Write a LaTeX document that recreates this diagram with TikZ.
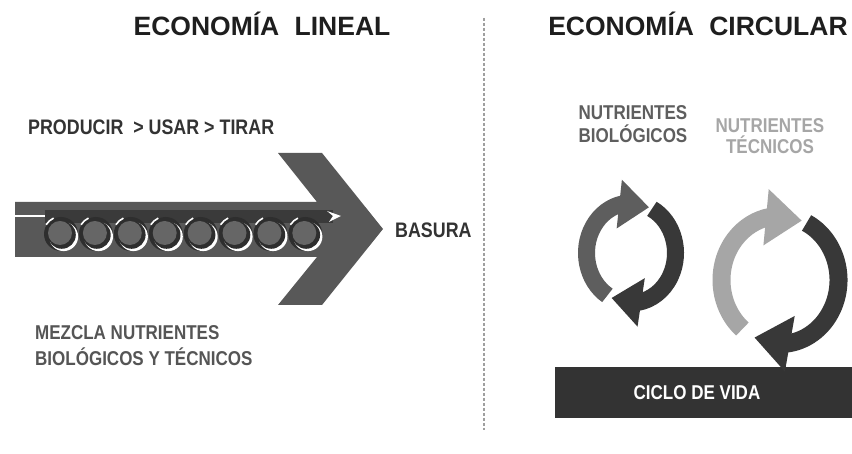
\documentclass[tikz,border=0pt]{standalone}
\usepackage{fontspec}
\setmainfont{Liberation Sans}
\newfontfamily\condf{Liberation Sans}[FakeStretch=0.85]
\usetikzlibrary{arrows.meta,bending,calc}
\definecolor{titlec}{HTML}{1E1E1E}
\definecolor{arrowgray}{HTML}{585858}
\definecolor{banddark}{HTML}{3A3A3A}
\definecolor{ringdark}{HTML}{2E2E2E}
\definecolor{ringgray}{HTML}{666666}
\definecolor{txtdark}{HTML}{333333}
\definecolor{txtmid}{HTML}{555555}
\definecolor{biogray}{HTML}{5E5E5E}
\definecolor{tecgray}{HTML}{A6A6A6}
\definecolor{cycdark}{HTML}{383838}
\definecolor{bardark}{HTML}{333333}
\begin{document}
\begin{tikzpicture}[x=1pt,y=1pt,
  title/.style={font=\bfseries\fontsize{26.5}{30}\selectfont, text=titlec, inner sep=0pt, text height=19pt, text depth=0pt},
  lbl/.style={font=\condf\bfseries\fontsize{20}{24}\selectfont, inner sep=0pt, text height=14.3pt, text depth=0pt},
  lblb/.style={font=\condf\bfseries\fontsize{21}{25}\selectfont, inner sep=0pt, text height=15pt, text depth=0pt, text=txtdark},
  divider/.style={draw=gray!75, line width=1.3pt, dash pattern=on 3pt off 2pt},
  cycle/.style={line width=#1}
]
\useasboundingbox[fill=white] (0,0) rectangle (852,454);

% titles
\node[title] (tl) at (262,428) {ECONOMÍA\hspace{0.3em} LINEAL};
\node[title] (tc) at (698,428) {ECONOMÍA\hspace{0.3em} CIRCULAR};

% divider
\coordinate (dtop) at (484,436);
\coordinate (dbot) at (484,24);
\draw[divider] (dtop) -- (dbot);

% ---------- linear economy ----------
\node[lblb, anchor=west] (prod) at (28,326.5) {PRODUCIR \ > USAR > TIRAR};

% big arrow
\fill[arrowgray] (15,252) -- (317,252) -- (278,301) -- (322,301) -- (383,225)
  -- (322,149) -- (278,149) -- (317,197) -- (15,197) -- cycle;
% dark band and white line
\fill[banddark] (45,244) rectangle (333,231);
\draw[white, line width=2pt] (15,237.5) -- (45,237.5);
\fill[white] (327,243) -- (341,238) -- (329,232) -- (333,238) -- cycle;
% rollers
\foreach \i in {0,...,7}{
  \coordinate (r\i) at ({61+34.9*\i},220);
  \fill[ringdark] (r\i) circle[radius=17pt];
  \fill[white] ($(r\i)+(2.6,-2.6)$) circle[radius=14.5pt];
  \fill[ringdark] ($(r\i)+(0.8,-0.8)$) circle[radius=14pt];
  \fill[ringgray] ($(r\i)+(-1,1)$) circle[radius=12pt];
  \draw[white, line width=1.6pt] (r\i) ++(115:17.5pt) arc[start angle=115, end angle=148, radius=17.5pt];
}

\node[lblb, anchor=west] (bas) at (395,223.5) {BASURA};

\node[lbl, anchor=west, text=txtmid] (mez1) at (35,122) {MEZCLA NUTRIENTES};
\node[lbl, anchor=west, text=txtmid] (mez2) at (35,96) {BIOLÓGICOS Y TÉCNICOS};

% ---------- circular economy ----------
\node[lbl, text=biogray] (bio1) at (633,342) {NUTRIENTES};
\node[lbl, text=biogray] (bio2) at (633,319) {BIOLÓGICOS};
\node[lbl, text=tecgray] (tec1) at (770,329) {NUTRIENTES};
\node[lbl, text=tecgray] (tec2) at (770,308) {TÉCNICOS};

% life cycle bar
\fill[bardark] (555,36) rectangle (852,87);
\node[lbl, text=white] (ciclo) at (697,62) {CICLO DE VIDA};

% small cycle
\coordinate (sc) at (631,201);
\draw[cycle=17pt, biogray, -{Triangle[width=47pt,length=30pt,flex]}]
  (sc) ++(238:44.5pt and 50pt) arc[start angle=238, end angle=66, x radius=44.5pt, y radius=50pt];
\draw[cycle=17pt, cycdark, -{Triangle[width=47pt,length=30pt,flex]}]
  (sc) ++(62:44.5pt and 50pt) arc[start angle=62, end angle=-116, x radius=44.5pt, y radius=50pt];

% big cycle
\coordinate (bc) at (780,174);
\draw[cycle=18pt, tecgray, -{Triangle[width=54pt,length=36pt,flex]}]
  (bc) ++(230:58.5pt and 64pt) arc[start angle=230, end angle=68, x radius=58.5pt, y radius=64pt];
\draw[cycle=18pt, cycdark, -{Triangle[width=54pt,length=36pt,flex]}]
  (bc) ++(63:58.5pt and 64pt) arc[start angle=63, end angle=-116, x radius=58.5pt, y radius=64pt];
\end{tikzpicture}
\end{document}
